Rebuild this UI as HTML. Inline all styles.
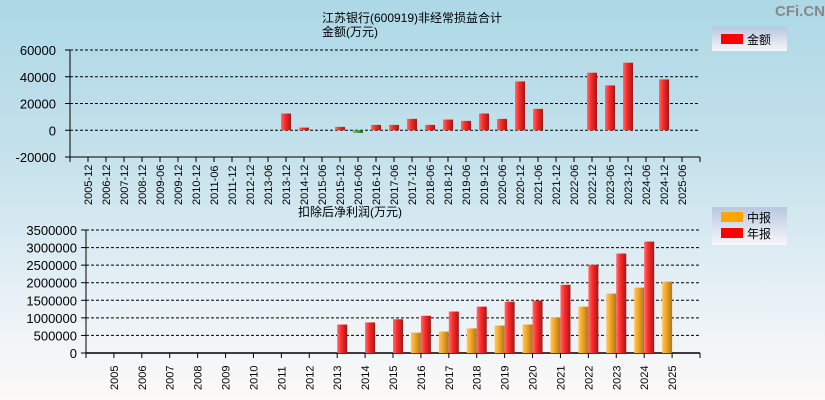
<!DOCTYPE html>
<html><head><meta charset="utf-8"><style>
body{margin:0;width:825px;height:400px;overflow:hidden;font-family:"Liberation Sans","Noto Sans CJK SC",sans-serif;}
#bg{position:absolute;left:0;top:0;width:825px;height:400px;background:linear-gradient(#add8e6 0%,#c6e2ec 40%,#e8f1f6 75%,#fdf9f8 100%);}
svg{position:absolute;left:0;top:0}
</style></head><body>
<div id="bg"></div>
<svg id="c" width="825" height="400">
<defs>
<linearGradient id="gr" x1="0" x2="1"><stop offset="0" stop-color="#ff6b6b"/><stop offset="0.4" stop-color="#ff2a2a"/><stop offset="1" stop-color="#a01818"/></linearGradient>
<linearGradient id="go" x1="0" x2="1"><stop offset="0" stop-color="#ffc860"/><stop offset="0.4" stop-color="#f5a623"/><stop offset="1" stop-color="#a8781e"/></linearGradient>
<linearGradient id="gg" x1="0" x2="1"><stop offset="0" stop-color="#6c6"/><stop offset="1" stop-color="#1a6a1a"/></linearGradient>
<linearGradient id="lg" x1="0" x2="0" y1="0" y2="1"><stop offset="0" stop-color="#b8c8e0"/><stop offset="1" stop-color="#f8f6fa"/></linearGradient>
</defs>
<text x="825" y="16" text-anchor="end" font-size="15" font-weight="bold" fill="#888">CFi.CN</text>
<text x="412" y="22" text-anchor="middle" font-size="12">江苏银行(600919)非经常损益合计</text>
<text x="350" y="36" text-anchor="middle" font-size="12">金额(万元)</text>
<text x="350" y="216" text-anchor="middle" font-size="12">扣除后净利润(万元)</text>
<g>
<rect x="712" y="27" width="75" height="24" fill="url(#lg)"/>
<rect x="721" y="34" width="22" height="10" fill="#f00"/>
<text x="747" y="44" font-size="12">金额</text></g>
<g>
<rect x="712" y="207" width="75" height="38" fill="url(#lg)"/>
<rect x="721" y="212" width="22" height="10" fill="#ffa500"/>
<text x="747" y="222" font-size="12">中报</text>
<rect x="721" y="228" width="22" height="10" fill="#f00"/>
<text x="747" y="238" font-size="12">年报</text></g>
<g id="top"></g><g id="bot"></g>
</svg>
<script>
const topCats=["2005-12","2006-12","2007-12","2008-12","2009-06","2009-12","2010-12","2011-06","2011-12","2012-12","2013-06","2013-12","2014-12","2015-06","2015-12","2016-06","2016-12","2017-06","2017-12","2018-06","2018-12","2019-06","2019-12","2020-06","2020-12","2021-06","2021-12","2022-06","2022-12","2023-06","2023-12","2024-06","2024-12","2025-06"];
const topVals=[0,0,0,0,0,0,0,0,0,0,0,12500,2000,0,2500,-2000,4000,4000,8500,4000,8000,7000,12500,8500,36500,16000,0,0,43000,33500,50500,0,38000,0];
const topTicks=[60000,40000,20000,0,-20000];
const botCats=["2005","2006","2007","2008","2009","2010","2011","2012","2013","2014","2015","2016","2017","2018","2019","2020","2021","2022","2023","2024","2025"];
const botMid=[0,0,0,0,0,0,0,0,0,0,0,580000,610000,700000,780000,810000,1010000,1320000,1690000,1860000,2030000];
const botAnn=[0,0,0,0,0,0,0,0,810000,870000,960000,1060000,1180000,1320000,1460000,1490000,1940000,2510000,2830000,3170000,0];
const botTicks=[3500000,3000000,2500000,2000000,1500000,1000000,500000,0];
const NS="http://www.w3.org/2000/svg";
function mk(p,t,a){const e=document.createElementNS(NS,t);for(const k in a)e.setAttribute(k,a[k]);p.appendChild(e);return e;}
// top
const T=document.getElementById('top');
const tx0=70,tx1=700,ty=v=>130.25-v*(26.75/20000),tstep=(tx1-tx0)/(topCats.length+1);
const tX=i=>tx0+(i+1)*tstep;
topTicks.forEach(v=>{
 const g=mk(T,'line',{x1:tx0,x2:tx1,y1:ty(v),y2:ty(v),stroke:'#000','stroke-dasharray':'3,2','stroke-width':1});
 
 const t=mk(T,'text',{x:tx0-14,y:ty(v)+5,'text-anchor':'end','font-size':13});t.textContent=v;
 
 mk(T,'line',{x1:tx0-5,x2:tx0,y1:ty(v),y2:ty(v),stroke:'#000'});
});
mk(T,'line',{x1:tx0,x2:tx0,y1:ty(60000),y2:ty(-20000),stroke:'#000'});
mk(T,'line',{x1:tx0,x2:tx1,y1:ty(-20000),y2:ty(-20000),stroke:'#000'});
for(let i=0;i<=topCats.length+1;i++)mk(T,'line',{x1:tx0+i*tstep,x2:tx0+i*tstep,y1:ty(-20000),y2:ty(-20000)+5,stroke:'#000'});
topCats.forEach((c,i)=>{
 const x=tX(i);
 const t=mk(T,'text',{x:0,y:0,'font-size':11,transform:`translate(${x+4},${ty(-20000)+48}) rotate(-90)`});t.textContent=c;
 
 const v=topVals[i];if(!v)return;
 const y0=ty(Math.max(v,0)),h=Math.abs(ty(v)-ty(0));
 const r=mk(T,'rect',{x:x-5,y:y0,width:10,height:h,fill:v<0?'url(#gg)':'url(#gr)'});
 
});
// bottom
const B=document.getElementById('bot');
const bx0=86,bx1=700,by=v=>353-v*(123/3500000),bstep=(bx1-bx0)/(botCats.length+1);
const bX=i=>bx0+(i+1)*bstep;
botTicks.forEach(v=>{
 const g=mk(B,'line',{x1:bx0,x2:bx1,y1:by(v),y2:by(v),stroke:'#000','stroke-dasharray':'3,2'});
 
 const t=mk(B,'text',{x:bx0-9,y:by(v)+5,'text-anchor':'end','font-size':13});t.textContent=v;
 
 mk(B,'line',{x1:bx0-5,x2:bx0,y1:by(v),y2:by(v),stroke:'#000'});
});
mk(B,'line',{x1:bx0,x2:bx0,y1:by(3500000),y2:by(0),stroke:'#000'});
mk(B,'line',{x1:bx0,x2:bx1,y1:by(0),y2:by(0),stroke:'#000','stroke-width':1.5});
for(let i=0;i<=botCats.length+1;i++)mk(B,'line',{x1:bx0+i*bstep,x2:bx0+i*bstep,y1:by(0),y2:by(0)+5,stroke:'#000'});
botCats.forEach((c,i)=>{
 const x=bX(i);
 const t=mk(B,'text',{x:0,y:0,'font-size':11,transform:`translate(${x+4},${by(0)+37}) rotate(-90)`});t.textContent=c;
 
 if(botMid[i]){const r=mk(B,'rect',{x:x-10,y:by(botMid[i]),width:10,height:by(0)-by(botMid[i]),fill:'url(#go)'});
  }
 if(botAnn[i]){const r=mk(B,'rect',{x:x,y:by(botAnn[i]),width:10,height:by(0)-by(botAnn[i]),fill:'url(#gr)'});
  }
});
</script>
</body></html>
